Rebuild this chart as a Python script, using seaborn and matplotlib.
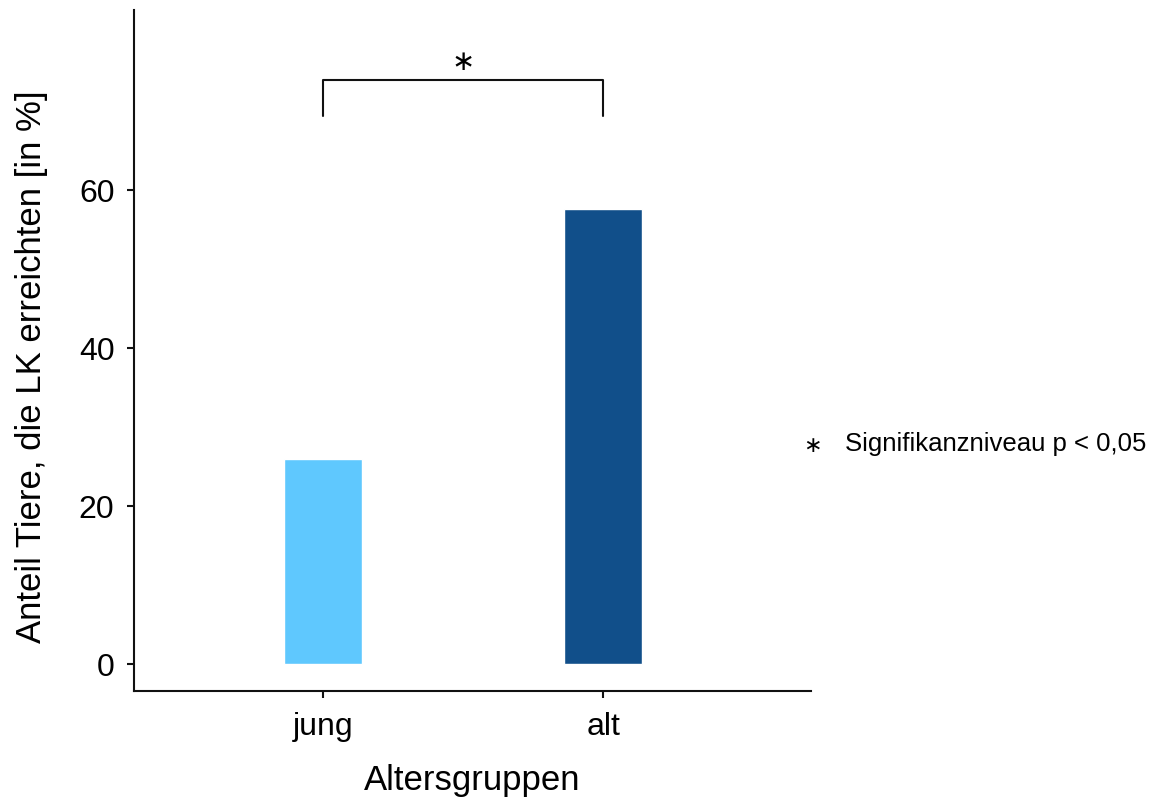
import numpy as np
import pandas as pd
import matplotlib
matplotlib.use('Agg')
import matplotlib.pyplot as plt
import seaborn as sns

# data
groups = ['jung', 'alt']
share_lk = [26.0, 57.6]
bar_colors = ['#5FC8FE', '#114F8A']
y_ticks = [0, 20, 40, 60]

df = pd.DataFrame({'Altersgruppen': groups, 'Anteil': share_lk})

sns.set_style("ticks")
plt.rcParams['font.family'] = ['Liberation Sans', 'DejaVu Sans']
plt.rcParams['text.color'] = 'black'
plt.rcParams['axes.labelcolor'] = 'black'

fig = plt.figure(figsize=(11.64, 7.98), dpi=100)
ax = fig.add_axes([0.115, 0.134, 0.582, 0.853])

sns.barplot(data=df, x='Altersgruppen', y='Anteil', hue='Altersgruppen',
            palette=bar_colors, width=0.28, legend=False, saturation=1, ax=ax)

ax.set_xlim(-0.675, 1.743)
ax.set_ylim(-3.4, 82.8)
ax.set_yticks(y_ticks)
ax.set_yticklabels([str(t) for t in y_ticks])

sns.despine(ax=ax)
for s in ['left', 'bottom']:
    ax.spines[s].set_linewidth(1.5)
    ax.spines[s].set_color('#111111')
ax.tick_params(axis='both', length=5, width=1.5, colors='#111111',
               labelcolor='black', labelsize=23)
ax.tick_params(axis='y', pad=9)
ax.tick_params(axis='x', pad=10)

ax.set_xlabel('Altersgruppen', fontsize=25, labelpad=16)
ax.set_ylabel('Anteil Tiere, die LK erreichten [in %]', fontsize=25)
ax.yaxis.set_label_coords(-0.127, 0.477)

# significance bracket
ax.plot([0, 0, 1, 1], [69.4, 74.0, 74.0, 69.4], color='#111111', linewidth=1.5,
        clip_on=False)
ax.text(0.5, 76.2, '\u2217', ha='center', va='center', fontsize=20,
        family=['DejaVu Sans'])

fig.text(812 / 1164, 1 - 446 / 798, '\u2217', ha='center', va='center',
         fontsize=16, family=['DejaVu Sans'])
fig.text(845 / 1164, 1 - 444 / 798, 'Signifikanzniveau p < 0,05', ha='left',
         va='center', fontsize=18.5)

fig.savefig('out.png', dpi=100)
